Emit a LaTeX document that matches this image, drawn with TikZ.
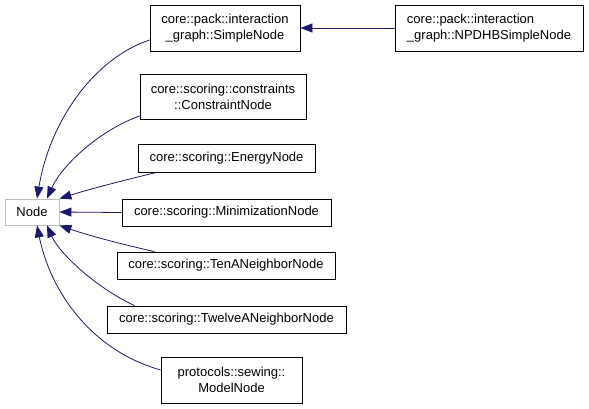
\documentclass[tikz,border=0pt]{standalone}
\usepackage{fontspec}
\setmainfont{Liberation Sans}
\usetikzlibrary{arrows.meta,calc}
\definecolor{edgeblue}{HTML}{191970}
\definecolor{lightgrayb}{HTML}{BFBFBF}
\begin{document}
\begin{tikzpicture}[x=1pt,y=-1pt,
  box/.style={draw=black, line width=0.8pt, rectangle, inner sep=0pt, align=center,
    font=\fontsize{13}{16}\selectfont},
  inh/.style={draw=edgeblue, line width=0.8pt, -{Triangle[length=12pt,width=9pt]}}]
\useasboundingbox (0,0) rectangle (589,408);
\node[box, draw=lightgrayb, minimum width=54pt, minimum height=26pt] (nd) at (32,212) {Node};
\node[box, minimum width=150pt, minimum height=46pt] (simple) at (225,28) {core::pack::interaction\\\_graph::SimpleNode};
\node[box, minimum width=188pt, minimum height=46pt, align=left] (npdhb) at (489,28) {core::pack::interaction\\\_graph::NPDHBSimpleNode};
\node[box, minimum width=166pt, minimum height=45pt] (constr) at (223,96.5) {core::scoring::constraints\\::ConstraintNode};
\node[box, minimum width=177pt, minimum height=28pt] (energy) at (226.5,158) {core::scoring::EnergyNode};
\node[box, minimum width=209pt, minimum height=27pt] (minim) at (226.5,212.5) {core::scoring::MinimizationNode};
\node[box, minimum width=218pt, minimum height=27pt] (tena) at (226,265.5) {core::scoring::TenANeighborNode};
\node[box, minimum width=239pt, minimum height=27pt] (twelvea) at (226.5,319.5) {core::scoring::TwelveANeighborNode};
\node[box, minimum width=141pt, minimum height=46pt] (model) at (231.5,380) {protocols::sewing::\\ModelNode};
\draw[inh] (npdhb.west) -- (simple.east);
\draw[inh] ($(simple.west)+(0,12)$) .. controls (95,58) and (50,120) .. ($(nd.north)+(5,0)$);
\draw[inh] ($(constr.west)+(0,19.5)$) .. controls (100,130) and (62,165) .. ($(nd.north)+(15,0)$);
\draw[inh] ($(energy.south west)+(19,0)$) .. controls (125,180) and (90,189) .. ($(nd.north east)+(0,0)$);
\draw[inh] (minim.west) -- (nd.east);
\draw[inh] ($(tena.north west)+(38,0)$) .. controls (125,245) and (90,236) .. (nd.south east);
\draw[inh] ($(twelvea.north west)+(28,0)$) .. controls (100,290) and (60,255) .. ($(nd.south)+(15,0)$);
\draw[inh] ($(model.west)+(0,-10)$) .. controls (90,350) and (50,290) .. ($(nd.south)+(5,0)$);
\end{tikzpicture}
\end{document}
